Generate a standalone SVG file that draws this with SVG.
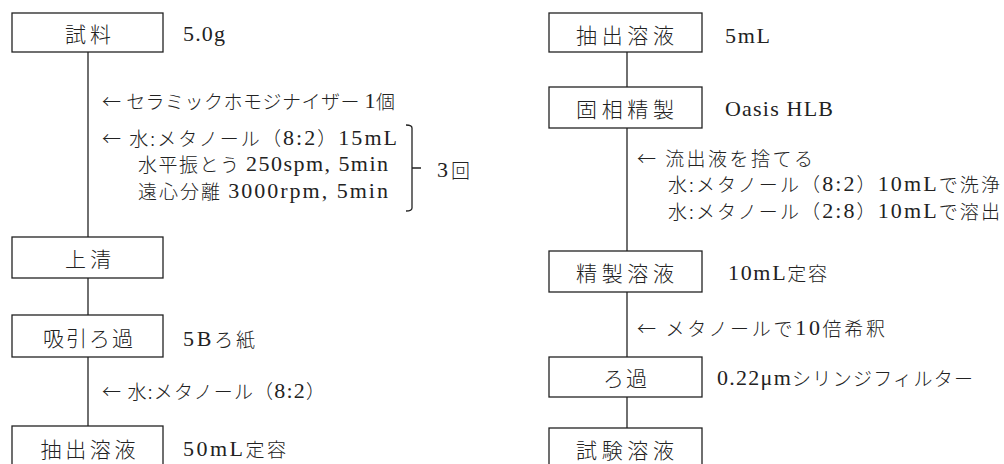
<svg xmlns="http://www.w3.org/2000/svg" width="1004" height="464" viewBox="0 0 1004 464">
<style>
.box{fill:#fff;stroke:#222;stroke-width:1.3}
.ln{stroke:#222;stroke-width:1.3;fill:none}
text{font-family:"Liberation Serif","Noto Sans CJK JP",serif;font-size:22px;fill:#222;dominant-baseline:central}
.j{font-family:"Noto Sans CJK JP",sans-serif;font-size:19px;font-weight:300}
.b{font-family:"Noto Sans CJK JP",sans-serif;font-size:21px;font-weight:300;text-anchor:middle}
</style>
<rect width="1004" height="464" fill="#fff"/>
<g id="connectors">
<line class="ln" x1="88" y1="52" x2="88" y2="237"/>
<line class="ln" x1="88" y1="278" x2="88" y2="315"/>
<line class="ln" x1="88" y1="357" x2="88" y2="426"/>
<line class="ln" x1="627" y1="52" x2="627" y2="87"/>
<line class="ln" x1="627" y1="128" x2="627" y2="251"/>
<line class="ln" x1="627" y1="292" x2="627" y2="357"/>
<line class="ln" x1="627" y1="397" x2="627" y2="428"/>
<path class="ln" d="M406,125 Q412,125 412,128 V208 Q412,211 406,211 M412,168 H421"/>
</g>
<g id="n_shiryo"><rect class="box" x="12" y="13" width="151" height="39"/><text class="b" x="88" y="33" textLength="46" lengthAdjust="spacing">試料</text></g>
<g id="n_jousei"><rect class="box" x="12" y="237" width="151" height="41"/><text class="b" x="88" y="258" textLength="46" lengthAdjust="spacing">上清</text></g>
<g id="n_kyuin"><rect class="box" x="12" y="315" width="151" height="42"/><text class="b" x="88" y="337" textLength="90" lengthAdjust="spacing">吸引ろ過</text></g>
<g id="n_chushutsu1"><rect class="box" x="12" y="426" width="151" height="45"/><text class="b" x="88" y="448" textLength="95" lengthAdjust="spacing">抽出溶液</text></g>
<g id="n_chushutsu2"><rect class="box" x="549" y="13" width="153" height="39"/><text class="b" x="625" y="34" textLength="98" lengthAdjust="spacing">抽出溶液</text></g>
<g id="n_koso"><rect class="box" x="549" y="87" width="153" height="41"/><text class="b" x="625" y="108" textLength="98" lengthAdjust="spacing">固相精製</text></g>
<g id="n_seisei"><rect class="box" x="549" y="251" width="153" height="41"/><text class="b" x="625" y="272" textLength="98" lengthAdjust="spacing">精製溶液</text></g>
<g id="n_roka"><rect class="box" x="549" y="357" width="153" height="40"/><text class="b" x="625" y="377" textLength="44" lengthAdjust="spacing">ろ過</text></g>
<g id="n_shiken"><rect class="box" x="549" y="428" width="153" height="45"/><text class="b" x="625" y="449" textLength="98" lengthAdjust="spacing">試験溶液</text></g>
<g id="labels">
<text x="183" y="33" textLength="42" lengthAdjust="spacing">5.0g</text>
<text x="102" y="100" textLength="293" lengthAdjust="spacing"><tspan class="j">← セラミックホモジナイザー </tspan>1<tspan class="j">個</tspan></text>
<text x="102" y="137" textLength="295" lengthAdjust="spacing"><tspan class="j">← 水:メタノール（</tspan>8:2<tspan class="j">）</tspan>15mL</text>
<text x="138" y="163" textLength="250" lengthAdjust="spacing"><tspan class="j">水平振とう </tspan>250spm, 5min</text>
<text x="138" y="190" textLength="250" lengthAdjust="spacing"><tspan class="j">遠心分離 </tspan>3000rpm, 5min</text>
<text x="437" y="169" textLength="33" lengthAdjust="spacing">3<tspan class="j">回</tspan></text>
<text x="183" y="338" textLength="72" lengthAdjust="spacing">5B<tspan class="j">ろ紙</tspan></text>
<text x="102" y="390" textLength="223" lengthAdjust="spacing"><tspan class="j">← 水:メタノール（</tspan>8:2<tspan class="j">）</tspan></text>
<text x="183" y="448" textLength="103" lengthAdjust="spacing">50mL<tspan class="j">定容</tspan></text>
<text x="725" y="35" textLength="45" lengthAdjust="spacing">5mL</text>
<text x="725" y="108" textLength="108" lengthAdjust="spacing">Oasis HLB</text>
<text x="637" y="157" textLength="176" lengthAdjust="spacing"><tspan class="j">← 流出液を捨てる</tspan></text>
<text x="668" y="183" textLength="332" lengthAdjust="spacing"><tspan class="j">水:メタノール（</tspan>8:2<tspan class="j">）</tspan>10mL<tspan class="j">で洗浄</tspan></text>
<text x="668" y="210" textLength="332" lengthAdjust="spacing"><tspan class="j">水:メタノール（</tspan>2:8<tspan class="j">）</tspan>10mL<tspan class="j">で溶出</tspan></text>
<text x="728" y="272" textLength="99" lengthAdjust="spacing">10mL<tspan class="j">定容</tspan></text>
<text x="637" y="327" textLength="248" lengthAdjust="spacing"><tspan class="j">← メタノールで</tspan>10<tspan class="j">倍希釈</tspan></text>
<text x="717" y="377" textLength="256" lengthAdjust="spacing">0.22μm<tspan class="j">シリンジフィルター</tspan></text>
</g>
</svg>
